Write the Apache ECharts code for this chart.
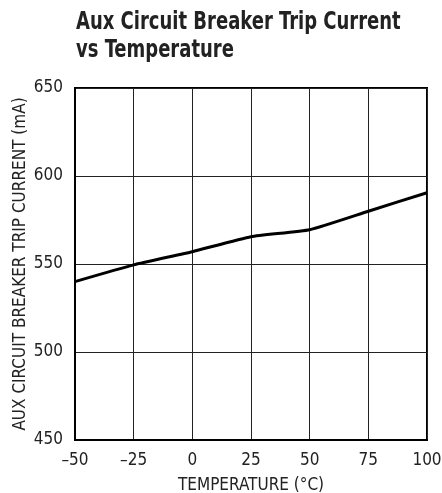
<!DOCTYPE html>
<html><head><meta charset="utf-8">
<script src="https://cdn.jsdelivr.net/npm/echarts@6/dist/echarts.min.js"></script>
<style>html,body{margin:0;padding:0;background:#fff}#c{width:442px;height:493px}</style>
</head><body><div id="c"></div>
<script>
const temps = [-50, -25, 0, 25, 50, 75, 100];
const tripCurrent = [540, 549.5, 557, 565.5, 569.5, 580, 590.5];
const xTicks = [-50, 100, 25];
const yTicks = [450, 650, 50];
const titleLines = ['Aux Circuit Breaker Trip Current', 'vs Temperature'];
const FONT = '"DejaVu Sans Condensed", "Liberation Sans Narrow", "Liberation Sans", sans-serif';

const chart = echarts.init(document.getElementById('c'), null, {renderer: 'canvas'});
chart.setOption({
  animation: false,
  backgroundColor: '#fff',
  graphic: titleLines.map((t, i) => ({
    type: 'text', left: 76, top: 10 + i * 27.5, scaleX: 0.8, originX: 0,
    style: {text: t, font: 'bold 25px "DejaVu Sans Condensed", sans-serif', fill: '#222'}
  })),
  grid: {left: 75, right: 15, top: 88, bottom: 53, outerBoundsMode: 'none', containLabel: false,
    show: true, borderColor: '#000', borderWidth: 2, backgroundColor: 'transparent'},
  xAxis: {
    type: 'value', min: xTicks[0], max: xTicks[1], interval: xTicks[2],
    name: 'TEMPERATURE (°C)', nameLocation: 'middle', nameGap: 37, nameMoveOverlap: false,
    nameTextStyle: {fontFamily: FONT, fontSize: 17, color: '#222'},
    axisLine: {show: true, onZero: false, lineStyle: {color: '#000', width: 2}},
    axisTick: {show: false},
    axisLabel: {fontFamily: FONT, fontSize: 17, color: '#222', margin: 12,
      formatter: v => String(v).replace('-', '\u2013')},
    splitLine: {show: true, lineStyle: {color: '#222', width: 1}}
  },
  yAxis: {
    type: 'value', min: yTicks[0], max: yTicks[1], interval: yTicks[2],
    name: 'AUX CIRCUIT BREAKER TRIP CURRENT (mA)', nameLocation: 'middle', nameGap: 46, nameMoveOverlap: false,
    nameTextStyle: {fontFamily: FONT, fontSize: 17, color: '#222'},
    axisLine: {show: true, onZero: false, lineStyle: {color: '#000', width: 2}},
    axisTick: {show: false},
    axisLabel: {fontFamily: FONT, fontSize: 17, color: '#222', margin: 12},
    splitLine: {show: true, lineStyle: {color: '#222', width: 1}}
  },
  series: [{
    type: 'line',
    data: temps.map((t, i) => [t, tripCurrent[i]]),
    smooth: 0.15,
    showSymbol: false,
    lineStyle: {color: '#000', width: 3}
  }]
});
</script></body></html>
